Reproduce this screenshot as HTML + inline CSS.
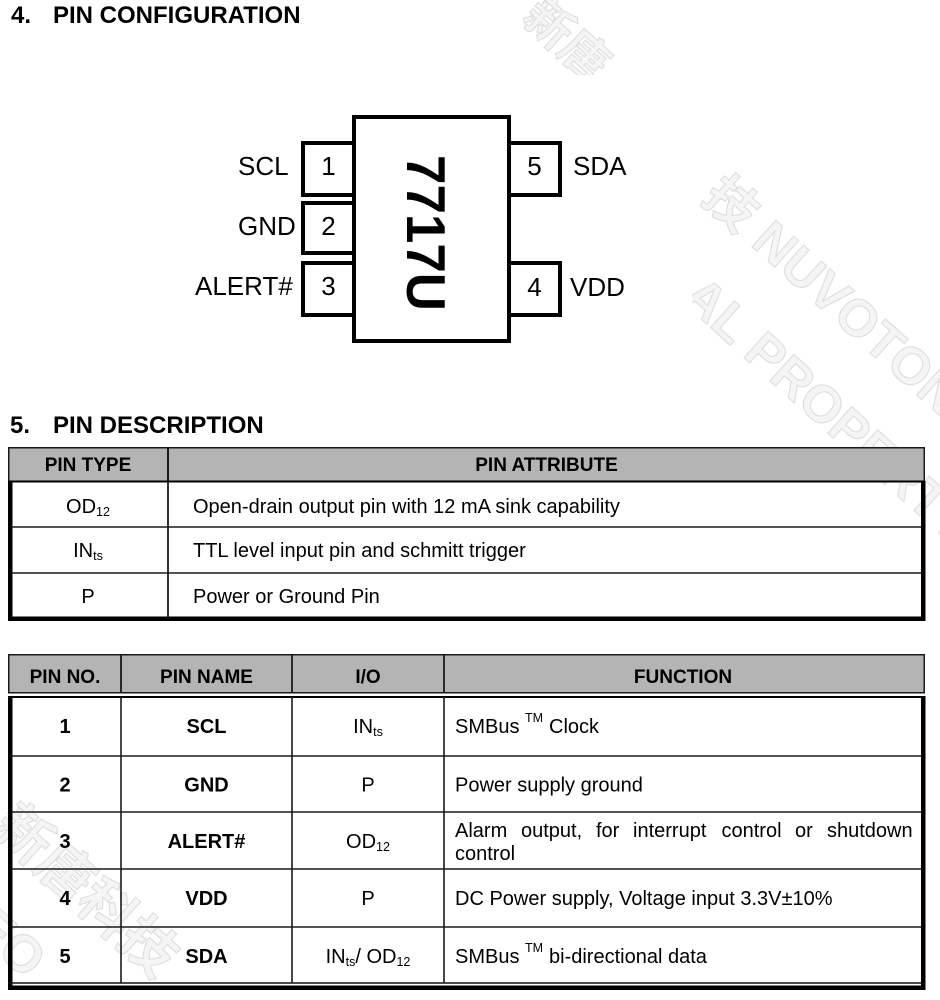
<!DOCTYPE html>
<html>
<head>
<meta charset="utf-8">
<style>
  html,body{margin:0;padding:0;background:#fff;}
  body{width:940px;height:1000px;overflow:hidden;position:relative;}
  svg{position:absolute;left:0;top:0;}
</style>
</head>
<body>
<svg width="940" height="1000" viewBox="0 0 940 1000" xmlns="http://www.w3.org/2000/svg" font-family="'Liberation Sans', Arial, 'Noto Sans CJK SC', sans-serif">
  <rect x="0" y="0" width="940" height="1000" fill="#ffffff"/>

  <!-- watermarks (faint) -->
  <g fill="#f5f5f5" stroke="#dedede" stroke-width="1.1" font-family="'Liberation Sans', 'Noto Sans CJK SC', sans-serif">
    <text transform="translate(520,20) rotate(42)" font-size="48" font-weight="bold">新唐</text>
    <text transform="translate(700,200) rotate(42)" font-size="52" font-weight="bold">技 NUVOTON</text>
    <text transform="translate(680,300) rotate(42)" font-size="52" font-weight="bold">AL PROPERTY</text>
    <text transform="translate(-10,830) rotate(42)" font-size="56" font-weight="bold">新唐科技</text>
    <text transform="translate(-30,930) rotate(42)" font-size="52" font-weight="bold">EO</text>
  </g>
  <!-- white diagram image area -->
  <rect x="172" y="75" width="520" height="297" fill="#ffffff"/>

  <!-- Heading 4 -->
  <text x="11" y="23" font-size="24" font-weight="bold" fill="#000">4.</text>
  <text x="53" y="23" font-size="24" font-weight="bold" fill="#000">PIN CONFIGURATION</text>

  <!-- Chip diagram -->
  <g fill="none" stroke="#000" stroke-width="4" stroke-linejoin="miter">
    <path d="M354,143 H303 V195 H354"/>
    <path d="M354,203 H303 V253 H354"/>
    <path d="M354,263 H303 V315 H354"/>
    <path d="M509,143 H560 V195 H509"/>
    <path d="M509,263 H560 V315 H509"/>
    <rect x="354" y="117" width="155" height="224" fill="#fff"/>
  </g>
  <g font-size="26" fill="#000">
    <text x="238" y="175">SCL</text>
    <text x="238" y="235">GND</text>
    <text x="195" y="295">ALERT#</text>
    <text x="328.5" y="175" text-anchor="middle">1</text>
    <text x="328.5" y="235" text-anchor="middle">2</text>
    <text x="328.5" y="295" text-anchor="middle">3</text>
    <text x="534.5" y="175" text-anchor="middle">5</text>
    <text x="534.5" y="296" text-anchor="middle">4</text>
    <text x="573" y="175">SDA</text>
    <text x="570" y="296">VDD</text>
  </g>
  <text transform="translate(407,155) rotate(90)" font-size="55" font-weight="bold" fill="#000" textLength="156" lengthAdjust="spacingAndGlyphs">7717U</text>

  <!-- Heading 5 -->
  <text x="10" y="433" font-size="24" font-weight="bold" fill="#000">5.</text>
  <text x="53" y="433" font-size="24" font-weight="bold" fill="#000">PIN DESCRIPTION</text>

  <!-- Table 1 -->
  <rect x="8.75" y="447.75" width="915.5" height="33.5" fill="#b4b4b4" stroke="#1a1a1a" stroke-width="1.5"/>
  <line x1="168" y1="447" x2="168" y2="481" stroke="#1a1a1a" stroke-width="2"/>
  <line x1="8" y1="481.5" x2="925" y2="481.5" stroke="#000" stroke-width="2"/>
  <rect x="8" y="481" width="4.5" height="140" fill="#000"/>
  <rect x="921" y="481" width="4.5" height="140" fill="#000"/>
  <rect x="8" y="616.5" width="917.5" height="4.5" fill="#000"/>
  <line x1="12" y1="527" x2="921" y2="527" stroke="#1a1a1a" stroke-width="1.6"/>
  <line x1="12" y1="573" x2="921" y2="573" stroke="#1a1a1a" stroke-width="1.6"/>
  <line x1="168" y1="481" x2="168" y2="617" stroke="#1a1a1a" stroke-width="1.8"/>

  <g font-size="19" font-weight="bold" fill="#000" text-anchor="middle">
    <text x="88" y="471">PIN TYPE</text>
    <text x="546.5" y="471">PIN ATTRIBUTE</text>
  </g>
  <g font-size="20" fill="#000">
    <text x="88" y="513" text-anchor="middle">OD<tspan font-size="12.5" dy="3">12</tspan></text>
    <text x="88" y="557" text-anchor="middle">IN<tspan font-size="12.5" dy="3">ts</tspan></text>
    <text x="88" y="603" text-anchor="middle">P</text>
    <text x="193" y="513">Open-drain output pin with 12 mA sink capability</text>
    <text x="193" y="557">TTL level input pin and schmitt trigger</text>
    <text x="193" y="603">Power or Ground Pin</text>
  </g>

  <!-- Table 2 -->
  <rect x="8.75" y="654.75" width="915.5" height="38" fill="#b4b4b4" stroke="#1a1a1a" stroke-width="1.5"/>
  <g stroke="#1a1a1a" stroke-width="1.8">
    <line x1="121" y1="654" x2="121" y2="693"/>
    <line x1="292" y1="654" x2="292" y2="693"/>
    <line x1="444" y1="654" x2="444" y2="693"/>
  </g>
  <line x1="8" y1="697" x2="925" y2="697" stroke="#000" stroke-width="2"/>
  <rect x="8" y="696" width="4.5" height="294" fill="#000"/>
  <rect x="921" y="696" width="4.5" height="294" fill="#000"/>
  <line x1="8" y1="983" x2="925" y2="983" stroke="#111" stroke-width="1.6"/>
  <rect x="8" y="985.5" width="917.5" height="4.5" fill="#000"/>
  <g stroke="#1a1a1a" stroke-width="1.6">
    <line x1="12" y1="756" x2="921" y2="756"/>
    <line x1="12" y1="812" x2="921" y2="812"/>
    <line x1="12" y1="869" x2="921" y2="869"/>
    <line x1="12" y1="927" x2="921" y2="927"/>
    <line x1="121" y1="697" x2="121" y2="983"/>
    <line x1="292" y1="697" x2="292" y2="983"/>
    <line x1="444" y1="697" x2="444" y2="983"/>
  </g>

  <g font-size="19" font-weight="bold" fill="#000" text-anchor="middle">
    <text x="65" y="683">PIN NO.</text>
    <text x="206.5" y="683">PIN NAME</text>
    <text x="368" y="683">I/O</text>
    <text x="683" y="683">FUNCTION</text>
  </g>
  <g font-size="20" font-weight="bold" fill="#000" text-anchor="middle">
    <text x="65" y="733">1</text>
    <text x="65" y="791.5">2</text>
    <text x="65" y="848">3</text>
    <text x="65" y="905">4</text>
    <text x="65" y="963">5</text>
    <text x="206.5" y="733">SCL</text>
    <text x="206.5" y="791.5">GND</text>
    <text x="206.5" y="848">ALERT#</text>
    <text x="206.5" y="905">VDD</text>
    <text x="206.5" y="963">SDA</text>
  </g>
  <g font-size="20" fill="#000" text-anchor="middle">
    <text x="368" y="733">IN<tspan font-size="12.5" dy="3">ts</tspan></text>
    <text x="368" y="791.5">P</text>
    <text x="368" y="848">OD<tspan font-size="12.5" dy="3">12</tspan></text>
    <text x="368" y="905">P</text>
    <text x="368" y="963">IN<tspan font-size="12.5" dy="3">ts</tspan><tspan dy="-3">/ OD</tspan><tspan font-size="12.5" dy="3">12</tspan></text>
  </g>
  <g font-size="20" fill="#000">
    <text x="455" y="733">SMBus</text>
    <text x="525" y="722" font-size="12.5">TM</text>
    <text x="549" y="733">Clock</text>
    <text x="455" y="791.5">Power supply ground</text>
    <text y="837"><tspan x="455">Alarm</tspan><tspan x="521">output,</tspan><tspan x="596">for</tspan><tspan x="633">interrupt</tspan><tspan x="721.5">control</tspan><tspan x="795">or</tspan><tspan x="827">shutdown</tspan></text>
    <text x="455" y="860">control</text>
    <text x="455" y="905">DC Power supply, Voltage input 3.3V±10%</text>
    <text x="455" y="963">SMBus</text>
    <text x="525" y="952" font-size="12.5">TM</text>
    <text x="549" y="963">bi-directional data</text>
  </g>
</svg>
</body>
</html>
